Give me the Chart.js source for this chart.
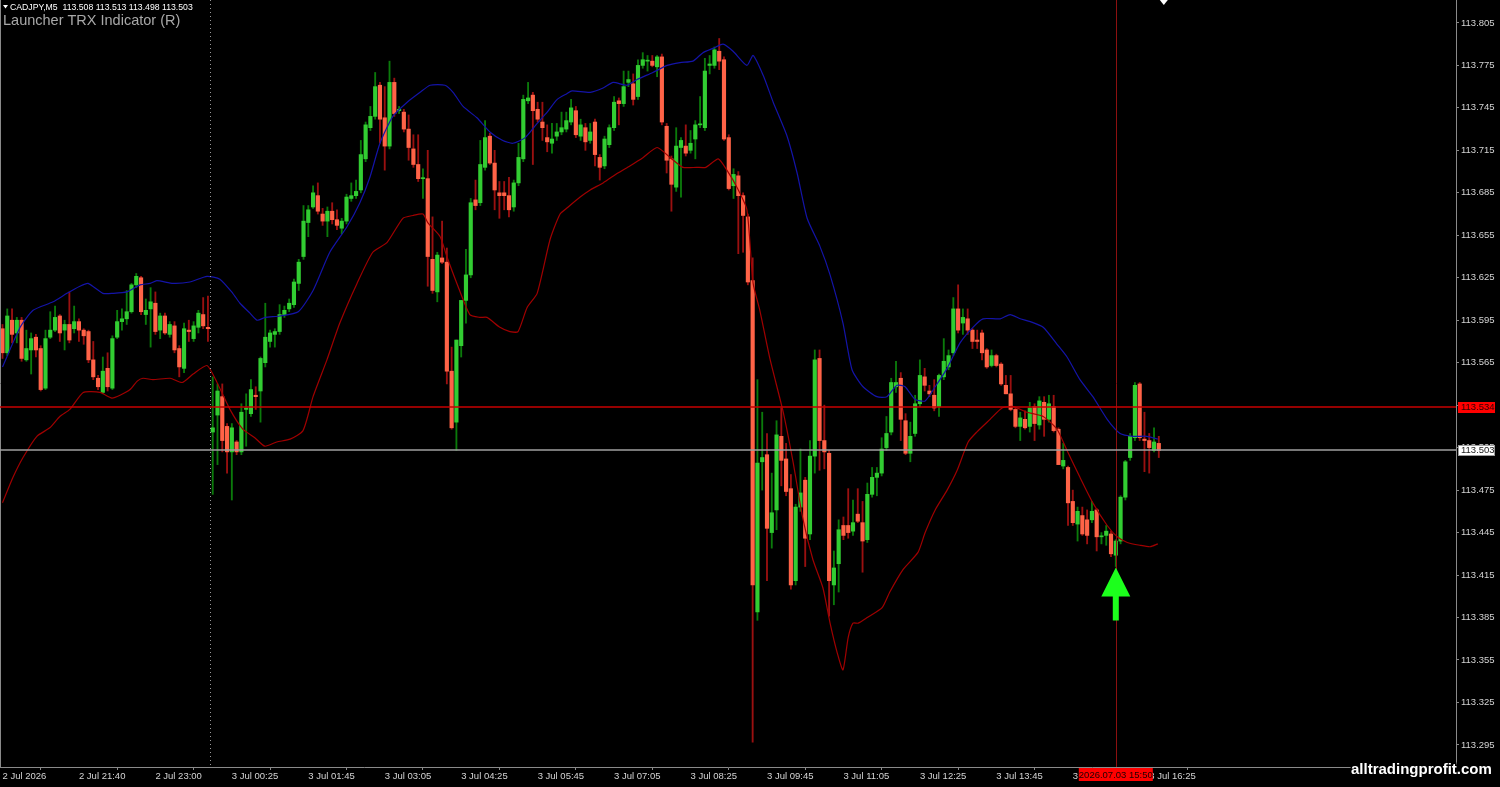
<!DOCTYPE html>
<html>
<head>
<meta charset="utf-8">
<title>CADJPY,M5 - Launcher TRX Indicator</title>
<script src="https://cdn.jsdelivr.net/npm/chart.js@4.4.1/dist/chart.umd.min.js"></script>
<style>
  html, body { margin: 0; padding: 0; background: #000; overflow: hidden; }
  #box { position: relative; width: 1500px; height: 787px; }
</style>
</head>
<body>
<div id="box"><canvas id="chart" width="1500" height="787"></canvas></div>
<script>
// CADJPY M5 candles, oldest first (2 Jul 20:20 .. 3 Jul 16:35)
const opens = [
  113.589,113.572,113.595,113.586,113.595,113.567,113.574,113.583,113.575,113.547,
  113.583,113.588,113.598,113.588,113.592,113.589,113.594,113.588,113.587,113.567,
  113.554,113.544,113.561,113.547,113.583,113.594,113.596,113.601,113.620,113.625,
  113.599,113.603,113.607,113.588,113.598,113.585,113.591,113.575,113.561,113.588,
  113.582,113.590,113.599,113.590,113.516,113.528,113.541,113.520,113.502,113.509,
  113.502,113.532,113.529,113.542,113.545,113.565,113.580,113.585,113.587,113.599,
  113.603,113.606,113.621,113.640,113.664,113.675,113.683,113.670,113.665,113.672,
  113.666,113.660,113.665,113.681,113.683,113.687,113.709,113.731,113.739,113.761,
  113.738,113.718,113.763,113.743,113.742,113.730,113.716,113.705,113.695,113.695,
  113.638,113.615,113.639,113.636,113.559,113.523,113.577,113.609,113.627,113.680,
  113.678,113.703,113.725,113.706,113.685,113.685,113.683,113.675,113.692,113.709,
  113.750,113.754,113.744,113.735,113.724,113.720,113.725,113.728,113.730,113.735,
  113.743,113.725,113.731,113.722,113.735,113.710,113.704,113.719,113.731,113.750,
  113.748,113.763,113.762,113.753,113.775,113.778,113.778,113.774,113.781,113.732,
  113.709,113.689,113.717,113.718,113.715,113.723,113.733,113.731,113.775,113.775,
  113.785,113.779,113.724,113.690,113.697,113.683,113.668,113.623,113.389,113.495,
  113.500,113.445,113.461,113.513,113.497,113.476,113.411,113.463,113.482,113.444,
  113.499,113.568,113.510,113.501,113.408,113.423,113.450,113.450,113.446,113.458,
  113.452,113.440,113.472,113.484,113.487,113.505,113.516,113.548,113.554,113.524,
  113.501,113.515,113.536,113.555,113.545,113.542,113.534,113.555,113.562,113.572,
  113.603,113.593,113.596,113.588,113.581,113.586,113.574,113.563,113.570,113.564,
  113.549,113.543,113.532,113.520,113.525,113.520,113.534,113.521,113.537,113.525,
  113.534,113.518,113.492,113.491,113.467,113.451,113.457,113.454,113.454,113.461,
  113.442,113.443,113.444,113.429,113.439,113.470,113.498,113.512,113.550,113.511,
  113.510,113.503,113.508
];
const highs = [
  113.592,113.603,113.603,113.597,113.597,113.588,113.586,113.585,113.577,113.588,
  113.601,113.605,113.599,113.595,113.615,113.605,113.596,113.589,113.588,113.580,
  113.556,113.569,113.572,113.584,113.602,113.603,113.616,113.621,113.628,113.626,
  113.610,113.618,113.615,113.600,113.600,113.594,113.594,113.577,113.593,113.595,
  113.594,113.602,113.611,113.612,113.555,113.550,113.550,113.522,113.522,113.510,
  113.536,113.543,113.553,113.548,113.569,113.607,113.588,113.589,113.606,113.605,
  113.610,113.624,113.638,113.676,113.676,113.690,113.692,113.674,113.675,113.678,
  113.673,113.667,113.684,113.692,113.694,113.722,113.735,113.746,113.770,113.763,
  113.760,113.778,113.766,113.746,113.744,113.740,113.726,113.726,113.702,113.715,
  113.668,113.643,113.665,113.646,113.576,113.581,113.609,113.645,113.681,113.694,
  113.722,113.736,113.727,113.715,113.693,113.693,113.696,113.694,113.720,113.754,
  113.763,113.756,113.749,113.749,113.733,113.734,113.734,113.742,113.742,113.751,
  113.746,113.737,113.734,113.734,113.737,113.712,113.725,113.733,113.753,113.752,
  113.771,113.771,113.769,113.779,113.784,113.782,113.782,113.782,113.783,113.734,
  113.711,113.731,113.724,113.733,113.729,113.736,113.753,113.780,113.782,113.788,
  113.794,113.781,113.726,113.702,113.700,113.685,113.670,113.639,113.553,113.530,
  113.515,113.487,113.524,113.533,113.508,113.486,113.465,113.504,113.484,113.510,
  113.574,113.574,113.535,113.503,113.432,113.454,113.456,113.476,113.468,113.476,
  113.467,113.480,113.491,113.491,113.512,113.527,113.554,113.566,113.558,113.529,
  113.523,113.542,113.567,113.561,113.549,113.553,113.557,113.582,113.574,113.611,
  113.620,113.603,113.603,113.589,113.588,113.588,113.575,113.574,113.571,113.565,
  113.556,113.556,113.533,113.530,113.531,113.537,113.536,113.541,113.541,113.542,
  113.542,113.519,113.508,113.492,113.475,113.463,113.463,113.461,113.467,113.462,
  113.445,113.450,113.446,113.440,113.471,113.496,113.515,113.551,113.551,113.530,
  113.515,113.519,113.513
];
const lows = [
  113.568,113.570,113.579,113.579,113.566,113.566,113.557,113.569,113.545,113.546,
  113.582,113.587,113.580,113.574,113.579,113.586,113.580,113.578,113.565,113.553,
  113.546,113.543,113.545,113.546,113.582,113.588,113.592,113.600,113.618,113.599,
  113.592,113.576,113.585,113.582,113.585,113.583,113.572,113.555,113.558,113.580,
  113.580,113.586,113.589,113.580,113.472,113.493,113.502,113.487,113.468,113.500,
  113.500,113.506,113.527,113.532,113.523,113.562,113.576,113.576,113.585,113.597,
  113.601,113.604,113.616,113.638,113.654,113.674,113.670,113.662,113.654,113.663,
  113.659,113.656,113.663,113.679,113.681,113.685,113.707,113.729,113.737,113.720,
  113.701,113.716,113.739,113.741,113.728,113.708,113.703,113.693,113.681,113.619,
  113.614,113.608,113.635,113.550,113.518,113.503,113.569,113.593,113.625,113.673,
  113.676,113.701,113.705,113.673,113.667,113.673,113.668,113.672,113.690,113.707,
  113.748,113.705,113.735,113.722,113.714,113.713,113.722,113.726,113.728,113.733,
  113.724,113.722,113.715,113.720,113.704,113.694,113.702,113.717,113.729,113.733,
  113.746,113.760,113.747,113.751,113.773,113.771,113.774,113.767,113.733,113.699,
  113.672,113.686,113.682,113.711,113.713,113.709,113.731,113.729,113.769,113.773,
  113.772,113.722,113.687,113.681,113.642,113.643,113.620,113.297,113.383,113.475,
  113.411,113.434,113.447,113.478,113.471,113.405,113.408,113.460,113.421,113.440,
  113.487,113.489,113.490,113.386,113.394,113.403,113.440,113.441,113.443,113.452,
  113.417,113.438,113.470,113.471,113.485,113.503,113.514,113.544,113.510,113.500,
  113.495,113.513,113.534,113.545,113.541,113.531,113.527,113.553,113.560,113.570,
  113.586,113.585,113.585,113.575,113.575,113.567,113.561,113.562,113.562,113.549,
  113.543,113.531,113.519,113.510,113.518,113.516,113.510,113.518,113.513,113.523,
  113.516,113.493,113.490,113.450,113.450,113.439,113.443,113.437,113.452,113.432,
  113.437,113.436,113.428,113.421,113.437,113.468,113.496,113.510,113.510,113.488,
  113.487,113.502,113.498
];
const closes = [
  113.572,113.598,113.585,113.595,113.568,113.575,113.582,113.574,113.546,113.582,
  113.588,113.597,113.586,113.592,113.581,113.594,113.588,113.584,113.567,113.555,
  113.548,113.559,113.548,113.582,113.594,113.596,113.601,113.620,113.626,113.601,
  113.602,113.608,113.587,113.598,113.586,113.592,113.574,113.562,113.589,113.587,
  113.591,113.600,113.591,113.589,113.519,113.545,113.510,113.502,113.519,113.502,
  113.530,113.533,113.546,113.541,113.568,113.583,113.586,113.587,113.599,113.602,
  113.607,113.622,113.636,113.665,113.673,113.685,113.672,113.665,113.672,113.666,
  113.662,113.665,113.682,113.683,113.686,113.712,113.733,113.739,113.760,113.737,
  113.718,113.763,113.741,113.744,113.730,113.717,113.705,113.695,113.695,113.640,
  113.616,113.641,113.636,113.559,113.519,113.581,113.609,113.627,113.678,113.676,
  113.705,113.724,113.706,113.687,113.683,113.683,113.673,113.692,113.710,113.751,
  113.752,113.743,113.737,113.731,113.721,113.723,113.728,113.731,113.736,113.745,
  113.726,113.733,113.721,113.728,113.712,113.703,113.723,113.731,113.749,113.748,
  113.760,113.765,113.751,113.775,113.779,113.778,113.775,113.781,113.735,113.708,
  113.691,113.718,113.722,113.713,113.720,113.733,113.733,113.771,113.776,113.786,
  113.778,113.723,113.688,113.698,113.683,113.669,113.622,113.408,113.494,113.498,
  113.448,113.459,113.514,113.496,113.474,113.408,113.463,113.473,113.441,113.499,
  113.567,113.510,113.502,113.411,113.420,113.447,113.443,113.445,113.452,113.453,
  113.439,113.472,113.484,113.487,113.504,113.515,113.551,113.551,113.525,113.501,
  113.513,113.536,113.556,113.549,113.543,113.533,113.556,113.566,113.570,113.603,
  113.588,113.597,113.588,113.580,113.580,113.572,113.562,113.570,113.563,113.550,
  113.543,113.532,113.520,113.526,113.519,113.533,113.522,113.538,113.525,113.536,
  113.517,113.493,113.496,113.466,113.452,113.460,113.444,113.443,113.460,113.442,
  113.442,113.446,113.430,113.439,113.470,113.495,113.513,113.549,113.512,113.510,
  113.505,113.509,113.503
];

// indicator bands, read as (bar position, price) pairs
const upperBandX = [0,3.7,6.4,10.6,13.5,16.2,17.9,21,23.1,26,28.8,30.9,32.3,35.7,39.2,42.8,45.5,48.2,49.7,51.8,
  53.3,55,58,61.9,65,68.5,72.1,74.8,76.9,79,81.7,84.7,87.4,89.5,92.6,94.3,96.4,99.3,102,104.7,
  106.8,109.4,111.9,114,116.1,118.1,119.2,123,125.7,127.8,130.7,132.8,136.1,139.1,141.8,144.5,146.6,148.7,150.8,152.9,
  155.8,157.1,159.2,161.3,164.2,166.3,168.4,171.1,173.2,175.9,177.8,180.1,183,185.1,187.2,188.9,191,193.1,195.2,197.7,
  200.4,203.1,205.2,208.8,210.9,213,215.1,217.8,220.7,222.8,225.5,228.2,231.2,233.9,236.6,239.5,241.8];
const upperBandY = [113.562,113.590,113.602,113.608,113.614,113.619,113.621,113.614,113.614,113.615,113.620,113.621,113.623,113.621,113.622,113.626,113.624,113.614,113.607,113.600,
  113.595,113.597,113.598,113.601,113.616,113.643,113.661,113.678,113.696,113.720,113.739,113.749,113.756,113.761,113.761,113.756,113.746,113.738,113.728,113.722,
  113.720,113.724,113.734,113.742,113.751,113.755,113.757,113.756,113.759,113.763,113.761,113.765,113.770,113.775,113.777,113.778,113.784,113.787,113.790,113.785,
  113.775,113.782,113.768,113.749,113.725,113.699,113.667,113.647,113.627,113.593,113.560,113.548,113.541,113.541,113.549,113.548,113.539,113.538,113.548,113.561,
  113.579,113.590,113.596,113.596,113.599,113.596,113.594,113.590,113.578,113.569,113.553,113.541,113.525,113.515,113.513,113.513,113.511];
const lowerBandX = [0,2.2,4.3,7.2,9.9,12,14.1,16.9,20.4,22.9,24.6,26.7,28.2,29.4,31.5,35.1,37.6,39.9,42.8,44.9,
  47.6,50.3,52.8,54.9,57.4,60.2,62.9,65,67.9,70.6,74.2,77.5,80.5,83.8,85.9,88,89,91.6,93,95.1,
  97.8,99.9,101.4,104.1,106.2,107.9,109.8,111.9,114.6,116.7,118.4,120.9,123,125.7,128.8,131.3,134.1,137,139.7,142.4,
  145.3,147.2,149.8,151.6,153.7,155.8,157.1,158.5,160.6,163.4,165.5,167.5,169.6,171.7,173.2,174.7,175.9,177,178,179.1,
  181,184.1,185.7,188.5,191.6,193.1,195.2,197.7,199.8,202.1,203.9,206.7,209.2,211.5,214.4,217.8,220.7,222.8,225.5,228.2,
  231.2,233.3,235.4,238.1,240.2,241.8];
const lowerBandY = [113.466,113.484,113.498,113.513,113.519,113.527,113.532,113.544,113.544,113.540,113.542,113.546,113.552,113.554,113.553,113.554,113.551,113.557,113.563,113.551,
  113.532,113.518,113.512,113.506,113.509,113.511,113.517,113.541,113.567,113.593,113.621,113.643,113.650,113.667,113.669,113.670,113.664,113.654,113.640,113.621,
  113.599,113.597,113.597,113.590,113.587,113.587,113.604,113.614,113.652,113.670,113.675,113.682,113.687,113.692,113.699,113.704,113.710,113.717,113.710,113.703,
  113.703,113.703,113.709,113.701,113.689,113.673,113.621,113.602,113.568,113.530,113.494,113.455,113.426,113.406,113.381,113.360,113.348,113.371,113.381,113.381,
  113.385,113.392,113.403,113.419,113.431,113.445,113.461,113.475,113.489,113.509,113.516,113.525,113.533,113.534,113.530,113.527,113.518,113.503,113.484,113.466,
  113.450,113.442,113.438,113.436,113.435,113.437];

// axis labels (one time label every 16 bars)
const timeLabels = ['2 Jul 2026','2 Jul 21:40','2 Jul 23:00','3 Jul 00:25','3 Jul 01:45','3 Jul 03:05',
  '3 Jul 04:25','3 Jul 05:45','3 Jul 07:05','3 Jul 08:25','3 Jul 09:45','3 Jul 11:05','3 Jul 12:25',
  '3 Jul 13:45','3 Jul 15:05','3 Jul 16:25'];
const labelStep = 16;
const priceTicks = [113.805,113.775,113.745,113.715,113.685,113.655,113.625,113.595,113.565,
  113.535,113.505,113.475,113.445,113.415,113.385,113.355,113.325,113.295];

const askPrice = 113.534;
const bidPrice = 113.503;
const signalBar = 233;     // green arrow + vertical cursor
const dayBreakBar = 43.5;  // dotted day separator
const cursorTime = '2026.07.03 15:50';
const headerText = 'CADJPY,M5  113.508 113.513 113.498 113.503';
const indicatorName = 'Launcher TRX Indicator (R)';

const BULL = '#32cd32', BEAR = '#ff6347';
const BULL_WICK = '#0b7a0b', BEAR_WICK = '#9a1010';
const FONT = '"Liberation Sans", Arial, sans-serif';

const isBull = i => closes[i] >= opens[i];

const overlay = {
  id: 'overlay',
  afterDatasetsDraw(chart) {
    const { ctx, chartArea: a, scales: { x, y } } = chart;
    ctx.save();
    // left frame
    ctx.strokeStyle = '#8a8a8a';
    ctx.lineWidth = 1;
    ctx.beginPath(); ctx.moveTo(0.5, a.top); ctx.lineTo(0.5, a.bottom); ctx.stroke();

    // day separator
    const xd = Math.round(x.getPixelForValue(dayBreakBar)) + 0.5;
    ctx.strokeStyle = '#9a9a9a';
    ctx.setLineDash([1, 3]);
    ctx.beginPath(); ctx.moveTo(xd, a.top); ctx.lineTo(xd, a.bottom); ctx.stroke();
    ctx.setLineDash([]);

    // vertical cursor
    const xc = Math.round(x.getPixelForValue(signalBar)) + 0.5;
    ctx.strokeStyle = '#8c1010';
    ctx.beginPath(); ctx.moveTo(xc, a.top); ctx.lineTo(xc, a.bottom); ctx.stroke();

    // ask / bid lines
    const ya = Math.round(y.getPixelForValue(askPrice));
    ctx.fillStyle = '#c80000';
    ctx.fillRect(a.left, ya - 0.75, a.right - a.left, 1.5);
    const yb = Math.round(y.getPixelForValue(bidPrice));
    ctx.strokeStyle = '#a0a0a0';
    ctx.lineWidth = 1.6;
    ctx.beginPath(); ctx.moveTo(a.left, yb); ctx.lineTo(a.right, yb); ctx.stroke();

    // buy arrow under the signal candle
    const ax = x.getPixelForValue(signalBar);
    const ay = y.getPixelForValue(lows[signalBar]) + 1;
    ctx.fillStyle = '#1cff1c';
    ctx.beginPath();
    ctx.moveTo(ax, ay);
    ctx.lineTo(ax + 14.5, ay + 29);
    ctx.lineTo(ax + 3, ay + 29);
    ctx.lineTo(ax + 3, ay + 53);
    ctx.lineTo(ax - 3, ay + 53);
    ctx.lineTo(ax - 3, ay + 29);
    ctx.lineTo(ax - 14.5, ay + 29);
    ctx.closePath();
    ctx.fill();

    // chart shift marker at the top
    const xs = x.getPixelForValue(opens.length - 1) + 5;
    ctx.fillStyle = '#ffffff';
    ctx.beginPath(); ctx.moveTo(xs - 4, 0); ctx.lineTo(xs + 4, 0); ctx.lineTo(xs, 5); ctx.closePath(); ctx.fill();
    ctx.restore();
  },
  afterDraw(chart) {
    const { ctx, chartArea: a, scales: { x, y } } = chart;
    ctx.save();
    ctx.textBaseline = 'middle';

    // header
    ctx.fillStyle = '#ffffff';
    ctx.beginPath(); ctx.moveTo(3, 5); ctx.lineTo(8, 5); ctx.lineTo(5.5, 8.5); ctx.closePath(); ctx.fill();
    ctx.font = '8.7px ' + FONT;
    ctx.textAlign = 'left';
    ctx.fillText(headerText, 10, 7.5);
    ctx.fillStyle = '#a8a8a8';
    ctx.font = '14.5px ' + FONT;
    ctx.fillText(indicatorName, 3, 21);

    // price tags on the right axis
    ctx.font = '9.5px ' + FONT;
    const tag = (price, bg, fg, border) => {
      const py = Math.round(y.getPixelForValue(price));
      ctx.fillStyle = bg;
      ctx.fillRect(a.right + 2, py - 5, 37, 11);
      if (border) { ctx.strokeStyle = border; ctx.lineWidth = 1; ctx.strokeRect(a.right + 2.5, py - 4.5, 36, 10); }
      ctx.fillStyle = fg;
      ctx.fillText(price.toFixed(3), a.right + 5, py + 0.5);
    };
    tag(askPrice, '#ff0000', '#300000', null);
    tag(bidPrice, '#ffffff', '#202020', '#9c9c9c');

    // cursor time tag
    const xc = x.getPixelForValue(signalBar);
    ctx.fillStyle = '#ff0000';
    ctx.fillRect(xc - 37, a.bottom + 1, 74, 13);
    ctx.fillStyle = '#200000';
    ctx.textAlign = 'center';
    ctx.fillText(cursorTime, xc, a.bottom + 8);

    // watermark
    ctx.font = 'bold 15px ' + FONT;
    ctx.textAlign = 'left';
    ctx.textBaseline = 'alphabetic';
    ctx.lineWidth = 3;
    ctx.strokeStyle = '#000000';
    ctx.strokeText('alltradingprofit.com', 1351, 774);
    ctx.fillStyle = '#ffffff';
    ctx.fillText('alltradingprofit.com', 1351, 774);
    ctx.restore();
  }
};

const ctx = document.getElementById('chart').getContext('2d');
new Chart(ctx, {
  type: 'bar',
  data: {
    datasets: [
      {
        type: 'line', label: 'upper', order: 1,
        data: upperBandX.map((v, k) => ({ x: v, y: upperBandY[k] })),
        borderColor: '#1414a8', borderWidth: 1.2, pointRadius: 0, tension: 0.2
      },
      {
        type: 'line', label: 'lower', order: 1,
        data: lowerBandX.map((v, k) => ({ x: v, y: lowerBandY[k] })),
        borderColor: '#a00000', borderWidth: 1.2, pointRadius: 0, tension: 0.2
      },
      {
        label: 'body', order: 2, grouped: false,
        data: opens.map((o, i) => ({ x: i, y: [o, closes[i]] })),
        backgroundColor: opens.map((o, i) => isBull(i) ? BULL : BEAR),
        barThickness: 3.5, minBarLength: 1, borderWidth: 0
      },
      {
        label: 'wick', order: 3, grouped: false,
        data: lows.map((l, i) => ({ x: i, y: [l, highs[i]] })),
        backgroundColor: opens.map((o, i) => isBull(i) ? BULL_WICK : BEAR_WICK),
        barThickness: 1.2, borderWidth: 0
      }
    ]
  },
  options: {
    responsive: false,
    animation: false,
    devicePixelRatio: 1,
    layout: { padding: 0 },
    plugins: { legend: { display: false }, tooltip: { enabled: false } },
    scales: {
      x: {
        type: 'linear',
        min: -0.52,
        max: 304.2,
        offset: false,
        afterBuildTicks: s => { s.ticks = timeLabels.map((t, k) => ({ value: k * labelStep })); },
        afterFit: s => { s.height = 20; s.paddingLeft = 0; s.paddingRight = 0; },
        ticks: {
          autoSkip: false, maxRotation: 0, align: 'start', padding: 1,
          color: '#d4d4d4', font: { family: FONT, size: 9.5 },
          callback: (v, idx) => timeLabels[idx]
        },
        grid: { drawOnChartArea: false, drawTicks: true, tickLength: 3, color: '#8a8a8a' },
        border: { display: true, color: '#8a8a8a' }
      },
      y: {
        position: 'right',
        min: 113.2794,
        max: 113.8212,
        afterBuildTicks: s => { s.ticks = priceTicks.map(v => ({ value: v })); },
        afterFit: s => { s.width = 44; s.paddingTop = 0; s.paddingBottom = 0; },
        ticks: {
          padding: 2, color: '#d4d4d4', font: { family: FONT, size: 9.5 },
          callback: v => v.toFixed(3)
        },
        grid: { drawOnChartArea: false, drawTicks: true, tickLength: 3, color: '#8a8a8a' },
        border: { display: true, color: '#8a8a8a' }
      }
    }
  },
  plugins: [overlay]
});
</script>
</body>
</html>
